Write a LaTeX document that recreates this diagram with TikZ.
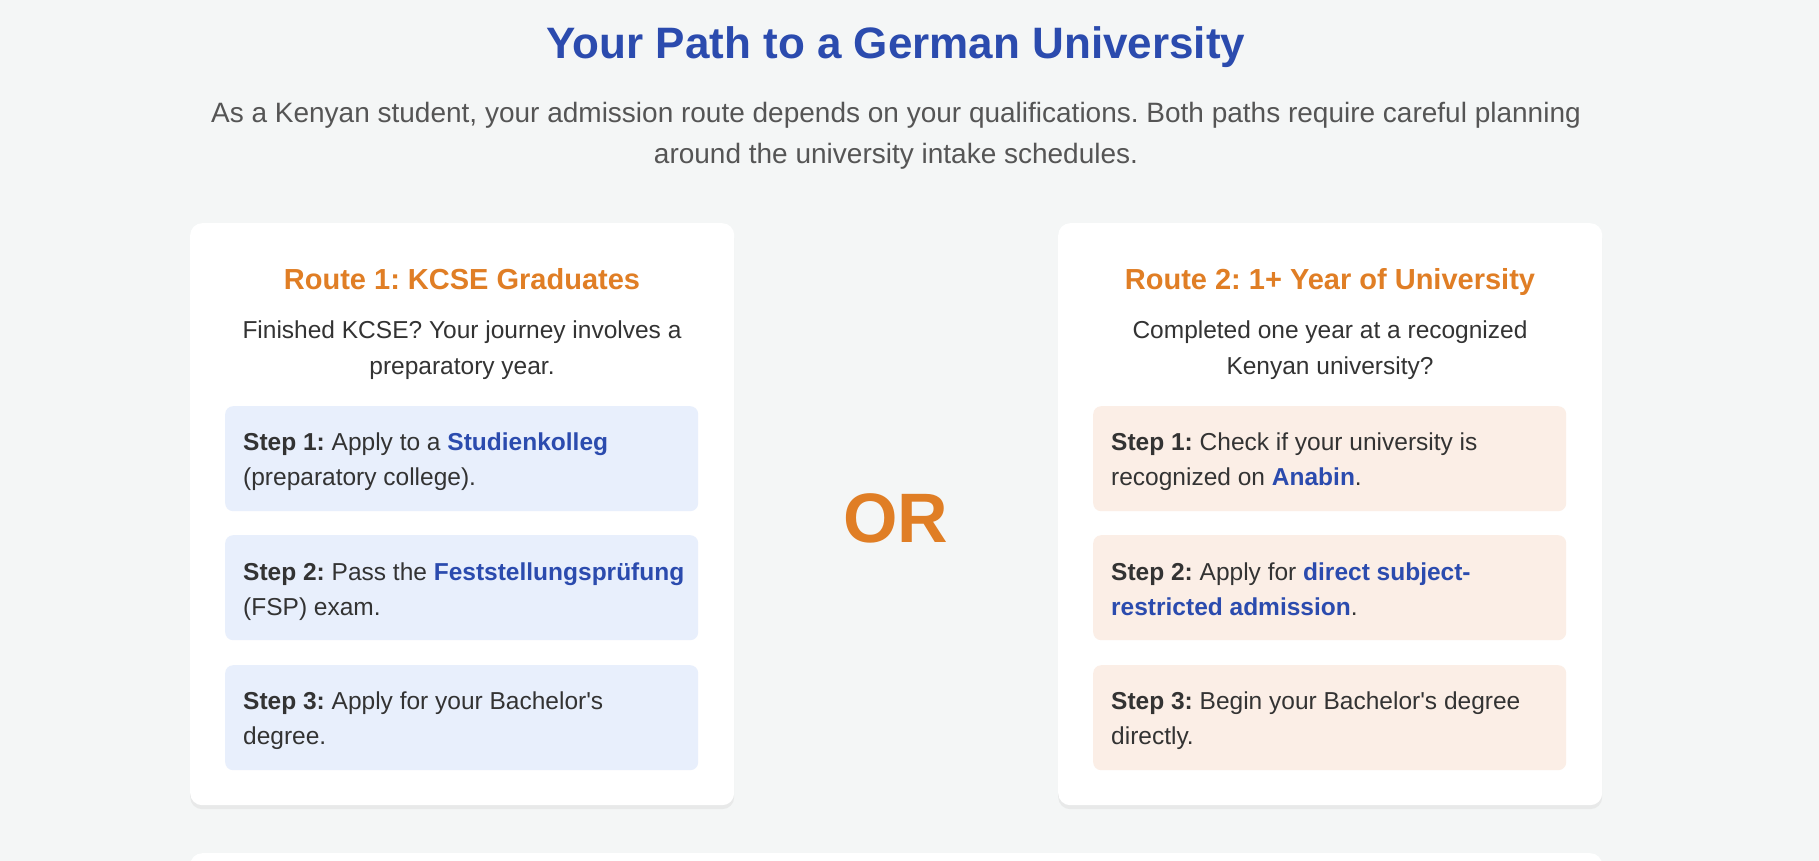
\documentclass[tikz,border=0pt]{standalone}
\usepackage{fontspec}
\setmainfont{Liberation Sans}[Ligatures=TeXOff]
\usetikzlibrary{shadows}

\definecolor{pagebg}{HTML}{F4F6F6}
\definecolor{titleblue}{HTML}{2B4BAE}
\definecolor{routeorange}{HTML}{E07E25}
\definecolor{bodytext}{HTML}{333333}
\definecolor{introgray}{HTML}{555555}
\definecolor{stepblue}{HTML}{E8EFFC}
\definecolor{steppeach}{HTML}{FBEEE6}

\newcommand{\kw}[1]{\textbf{\color{titleblue}#1}}

\begin{document}
\frenchspacing
\begin{tikzpicture}[x=1pt,y=-1pt,
    card/.style={rectangle, fill=white, rounded corners=12pt, anchor=north west,
        inner sep=0pt, drop shadow={opacity=0.10, shadow xshift=0pt, shadow yshift=-4pt}},
    stepbox/.style={rectangle, rounded corners=8pt, anchor=north west, inner sep=0pt,
        minimum width=473, minimum height=105},
    steptext/.style={anchor=base west, align=left, inner sep=0pt, text=bodytext,
        font=\fontsize{24.5}{35}\selectfont},
    routehead/.style={anchor=base, inner sep=0pt, text=routeorange,
        font=\fontsize{29}{32}\selectfont\bfseries},
    routedesc/.style={anchor=base, align=center, inner sep=0pt, text=bodytext,
        font=\fontsize{24.5}{36}\selectfont}]

    \path[use as bounding box, clip] (0,0) rectangle (1819,861);
    \fill[pagebg] (0,0) rectangle (1819,861);

    % heading (base of a multi-line node = its last line)
    \node[anchor=base, inner sep=0pt, text=titleblue, font=\fontsize{44}{50}\selectfont\bfseries]
        (title) at (896,59) {Your Path to a German University};
    \node[anchor=base, align=center, inner sep=0pt, text=introgray, font=\fontsize{28}{41}\selectfont]
        (intro) at (896,164) {As a Kenyan student, your admission route depends on your qualifications. Both paths require careful planning\\around the university intake schedules.};

    % the two cards
    \node[card, minimum width=544, minimum height=582] (card1) at (190,223) {};
    \node[card, minimum width=544, minimum height=582] (card2) at (1058,223) {};
    \node[card, minimum width=1412, minimum height=80] (card3) at (190,853) {};

    \node[routehead] (head1) at (462,289) {Route 1: KCSE Graduates};
    \node[routedesc] (desc1) at (462,374) {Finished KCSE? Your journey involves a\\preparatory year.};
    \node[routehead] (head2) at (1330,289) {Route 2: 1+ Year of University};
    \node[routedesc] (desc2) at (1330,374) {Completed one year at a recognized\\Kenyan university?};

    \foreach \i/\y in {1/406,2/535,3/665}
        {\node[stepbox, fill=stepblue] (lstep\i) at (225,\y) {};
        \node[stepbox, fill=steppeach] (rstep\i) at (1093,\y) {};}

    \node[steptext] (ltext1) at (243,485) {\textbf{Step 1:} Apply to a \kw{Studienkolleg}\\(preparatory college).};
    \node[steptext] (ltext2) at (243,615) {\textbf{Step 2:} Pass the \kw{Feststellungsprüfung}\\(FSP) exam.};
    \node[steptext] (ltext3) at (243,744) {\textbf{Step 3:} Apply for your Bachelor's\\degree.};

    \node[steptext] (rtext1) at (1111,485) {\textbf{Step 1:} Check if your university is\\recognized on \kw{Anabin}.};
    \node[steptext] (rtext2) at (1111,615) {\textbf{Step 2:} Apply for \kw{direct subject-}\\\kw{restricted admission}.};
    \node[steptext] (rtext3) at (1111,744) {\textbf{Step 3:} Begin your Bachelor's degree\\directly.};

    \node[anchor=base, inner sep=0pt, text=routeorange, font=\fontsize{70}{70}\selectfont\bfseries]
        (or) at (896,542) {OR};

\end{tikzpicture}
\end{document}
